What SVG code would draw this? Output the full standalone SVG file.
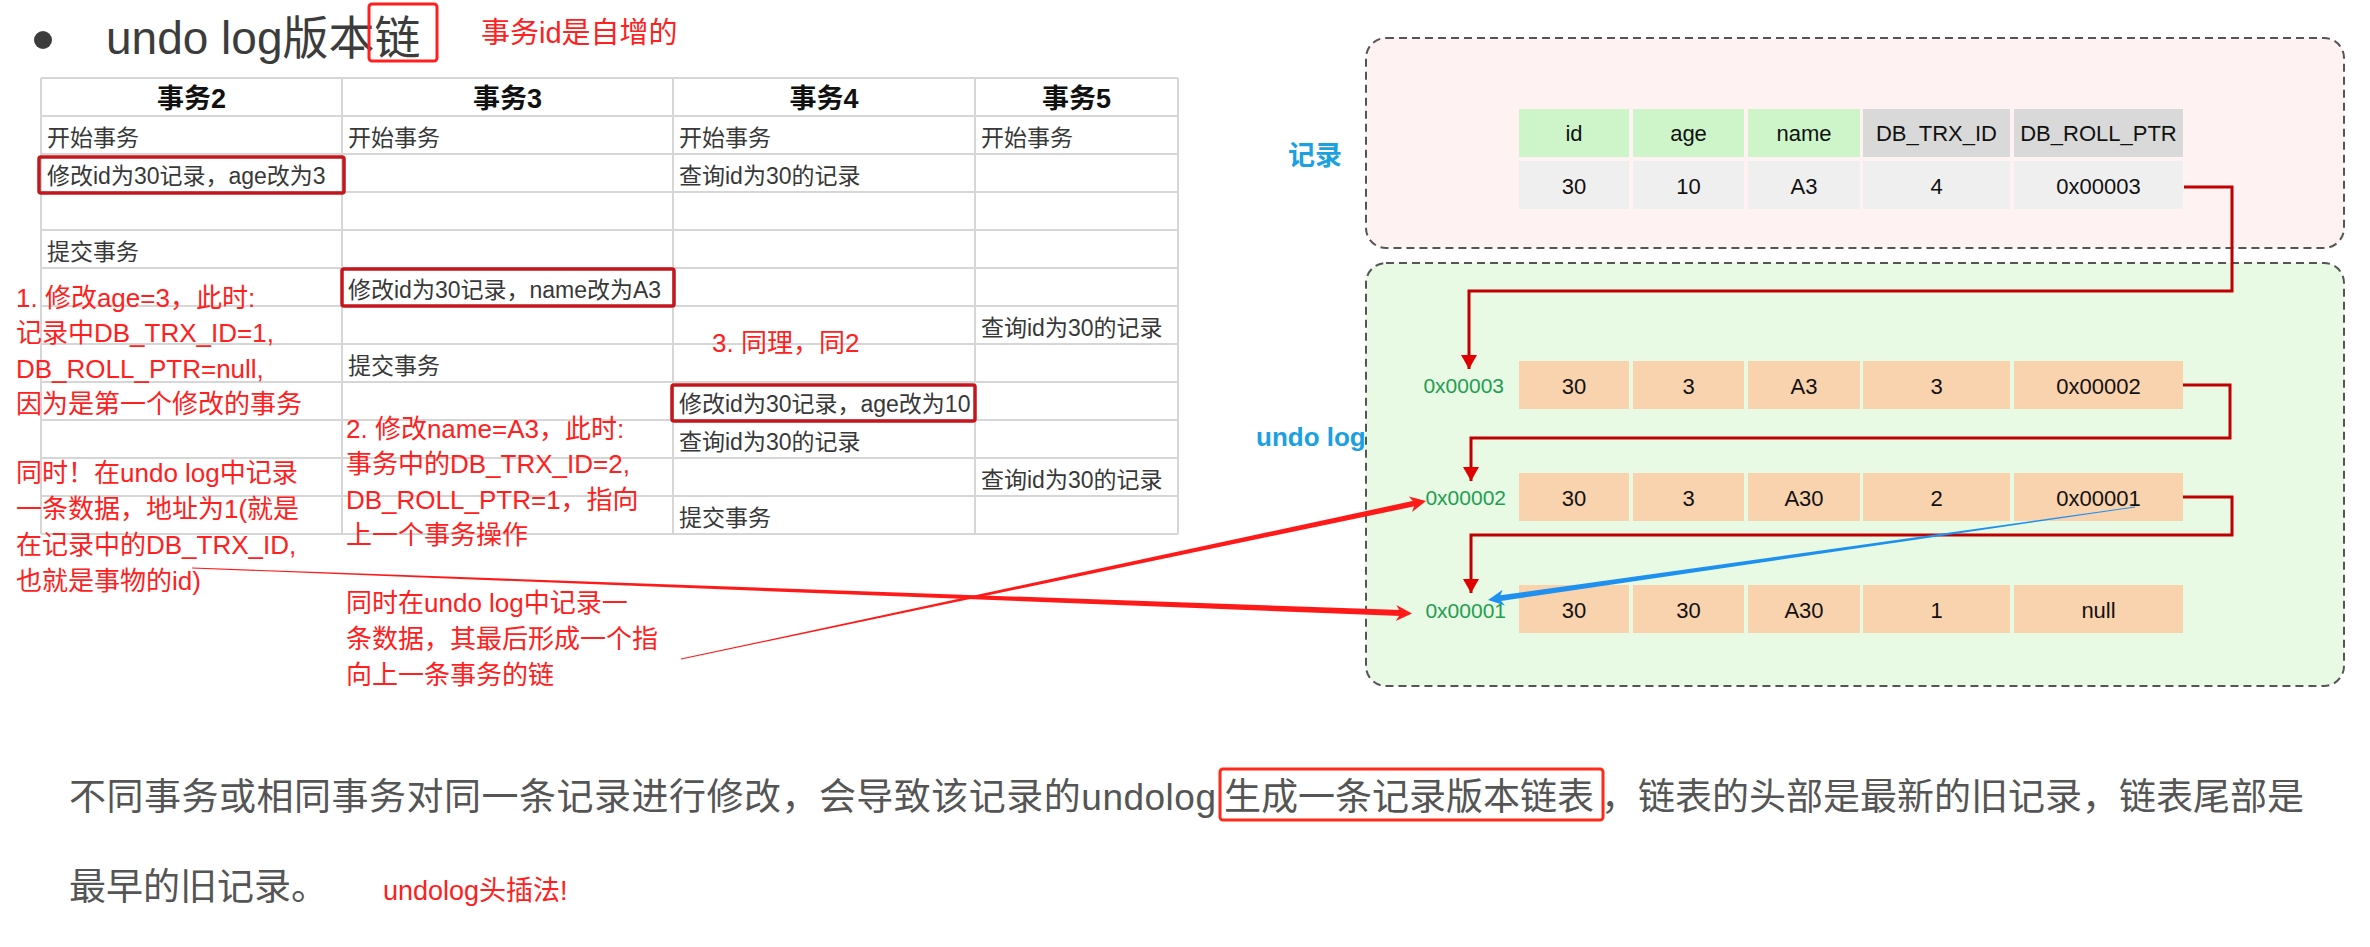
<svg xmlns="http://www.w3.org/2000/svg" width="2370" height="947" viewBox="0 0 2370 947">
<defs>
<style>
.ttl{font-family:"Liberation Sans","Noto Sans CJK SC",sans-serif;font-size:46px;fill:#3c3c3c}
.hd{font-family:"Liberation Sans","Noto Sans CJK SC",sans-serif;font-size:27px;font-weight:bold;fill:#111;text-anchor:middle}
.cell{font-family:"Liberation Sans","Noto Sans CJK SC",sans-serif;font-size:23px;fill:#383838}
.grid{stroke:#d6d6d6;stroke-width:2;fill:none}
.dbox{fill:none;stroke:#c4161c;stroke-width:3.5}
.note{font-family:"Liberation Sans","Noto Sans CJK SC",sans-serif;font-size:26px;fill:#ff2020}
.rbox{fill:none;stroke:#ff1f1f;stroke-width:3}
.blue{font-family:"Liberation Sans","Noto Sans CJK SC",sans-serif;font-size:26px;font-weight:bold;fill:#1ba0e2}
.ct{font-family:"Liberation Sans",sans-serif;font-size:22px;fill:#111;text-anchor:middle}
.addr{font-family:"Liberation Sans",sans-serif;font-size:21px;fill:#1f9e52;text-anchor:end}
.gh{fill:#cdf5c9}.gg{fill:#d9d9d9}.gd{fill:#efefef}.pc{fill:#f9d2ae}
.body{font-family:"Liberation Sans","Noto Sans CJK SC",sans-serif;font-size:37px;fill:#555}
.elbow{fill:none;stroke:#c00000;stroke-width:3;marker-end:url(#ah)}
</style>
<marker id="ah" markerUnits="userSpaceOnUse" markerWidth="14" markerHeight="16" viewBox="0 0 14 16" refX="14" refY="8" orient="auto">
<path d="M0,0 L14,8 L0,16 Z" fill="#e00000"/>
</marker>
</defs>
<rect width="2370" height="947" fill="#ffffff"/>

<g id="title">
<circle cx="43" cy="40" r="9" fill="#3c3c3c"/>
<text class="ttl" x="106" y="54">undo log版本链</text>
<rect class="rbox" x="369" y="4" width="68" height="57" rx="3"/>
<text class="note" x="481" y="43" style="font-size:29px">事务id是自增的</text>
</g>

<g id="txn-table">
<g class="grid">
<path d="M41,78 H1178 M41,116 H1178 M41,154 H1178 M41,192 H1178 M41,230 H1178 M41,268 H1178 M41,306 H1178 M41,344 H1178 M41,382 H1178 M41,420 H1178 M41,458 H1178 M41,496 H1178 M41,534 H1178"/>
<path d="M41,78 V534 M342,78 V534 M673,78 V534 M975,78 V534 M1178,78 V534"/>
</g>
<text class="hd" x="191.5" y="108">事务2</text>
<text class="hd" x="507.5" y="108">事务3</text>
<text class="hd" x="824" y="108">事务4</text>
<text class="hd" x="1076.5" y="108">事务5</text>
<text class="cell" x="47" y="146">开始事务</text>
<text class="cell" x="348" y="146">开始事务</text>
<text class="cell" x="679" y="146">开始事务</text>
<text class="cell" x="981" y="146">开始事务</text>
<text class="cell" x="47" y="184">修改id为30记录，age改为3</text>
<text class="cell" x="679" y="184">查询id为30的记录</text>
<text class="cell" x="47" y="260">提交事务</text>
<text class="cell" x="348" y="298">修改id为30记录，name改为A3</text>
<text class="cell" x="981" y="336">查询id为30的记录</text>
<text class="cell" x="348" y="374">提交事务</text>
<text class="cell" x="679" y="412">修改id为30记录，age改为10</text>
<text class="cell" x="679" y="450">查询id为30的记录</text>
<text class="cell" x="981" y="488">查询id为30的记录</text>
<text class="cell" x="679" y="526">提交事务</text>
<rect class="dbox" x="39" y="157" width="305" height="36" rx="2"/>
<rect class="dbox" x="342" y="269" width="332" height="37" rx="2"/>
<rect class="dbox" x="672" y="385" width="303" height="36" rx="2"/>
</g>

<g id="note1">
<text class="note" x="16" y="307">1. 修改age=3，此时:</text>
<text class="note" x="16" y="342">记录中DB_TRX_ID=1,</text>
<text class="note" x="16" y="378">DB_ROLL_PTR=null,</text>
<text class="note" x="16" y="413">因为是第一个修改的事务</text>
<text class="note" x="16" y="482">同时！在undo log中记录</text>
<text class="note" x="16" y="518">一条数据，地址为1(就是</text>
<text class="note" x="16" y="554">在记录中的DB_TRX_ID,</text>
<text class="note" x="16" y="590">也就是事物的id)</text>
</g>
<g id="note2">
<text class="note" x="346" y="438">2. 修改name=A3，此时:</text>
<text class="note" x="346" y="473">事务中的DB_TRX_ID=2,</text>
<text class="note" x="346" y="509">DB_ROLL_PTR=1，指向</text>
<text class="note" x="346" y="544">上一个事务操作</text>
</g>
<g id="note3">
<text class="note" x="712" y="352">3. 同理，同2</text>
</g>
<g id="note4">
<text class="note" x="346" y="612">同时在undo log中记录一</text>
<text class="note" x="346" y="648">条数据，其最后形成一个指</text>
<text class="note" x="346" y="684">向上一条事务的链</text>
</g>

<g id="record-box">
<rect x="1366" y="38" width="978" height="210" rx="20" fill="#fef3f2" stroke="#555" stroke-width="2" stroke-dasharray="8,5"/>
<text class="blue" x="1288" y="165" style="font-size:27px">记录</text>
<rect class="gh" x="1519" y="109" width="110" height="48"/>
<rect class="gh" x="1633" y="109" width="111" height="48"/>
<rect class="gh" x="1748" y="109" width="112" height="48"/>
<rect class="gg" x="1863" y="109" width="147" height="48"/>
<rect class="gg" x="2014" y="109" width="169" height="48"/>
<rect class="gd" x="1519" y="161" width="110" height="48"/>
<rect class="gd" x="1633" y="161" width="111" height="48"/>
<rect class="gd" x="1748" y="161" width="112" height="48"/>
<rect class="gd" x="1863" y="161" width="147" height="48"/>
<rect class="gd" x="2014" y="161" width="169" height="48"/>
<text class="ct" x="1574" y="141">id</text>
<text class="ct" x="1688.5" y="141">age</text>
<text class="ct" x="1804" y="141">name</text>
<text class="ct" x="1936.5" y="141">DB_TRX_ID</text>
<text class="ct" x="2098.5" y="141">DB_ROLL_PTR</text>
<text class="ct" x="1574" y="194">30</text>
<text class="ct" x="1688.5" y="194">10</text>
<text class="ct" x="1804" y="194">A3</text>
<text class="ct" x="1936.5" y="194">4</text>
<text class="ct" x="2098.5" y="194">0x00003</text>
</g>

<g id="undo-box">
<rect x="1366" y="263" width="978" height="423" rx="20" fill="#e8f9e4" stroke="#555" stroke-width="2" stroke-dasharray="8,5"/>
<text class="blue" x="1256" y="446">undo log</text>
</g>

<g id="undo-row-3">
<text class="addr" x="1504" y="393">0x00003</text>
<rect class="pc" x="1519" y="361" width="110" height="48"/>
<rect class="pc" x="1633" y="361" width="111" height="48"/>
<rect class="pc" x="1748" y="361" width="112" height="48"/>
<rect class="pc" x="1863" y="361" width="147" height="48"/>
<rect class="pc" x="2014" y="361" width="169" height="48"/>
<text class="ct" x="1574" y="394">30</text>
<text class="ct" x="1688.5" y="394">3</text>
<text class="ct" x="1804" y="394">A3</text>
<text class="ct" x="1936.5" y="394">3</text>
<text class="ct" x="2098.5" y="394">0x00002</text>
</g>
<g id="undo-row-2">
<text class="addr" x="1506" y="505">0x00002</text>
<rect class="pc" x="1519" y="473" width="110" height="48"/>
<rect class="pc" x="1633" y="473" width="111" height="48"/>
<rect class="pc" x="1748" y="473" width="112" height="48"/>
<rect class="pc" x="1863" y="473" width="147" height="48"/>
<rect class="pc" x="2014" y="473" width="169" height="48"/>
<text class="ct" x="1574" y="506">30</text>
<text class="ct" x="1688.5" y="506">3</text>
<text class="ct" x="1804" y="506">A30</text>
<text class="ct" x="1936.5" y="506">2</text>
<text class="ct" x="2098.5" y="506">0x00001</text>
</g>
<g id="undo-row-1">
<text class="addr" x="1506" y="618">0x00001</text>
<rect class="pc" x="1519" y="585" width="110" height="48"/>
<rect class="pc" x="1633" y="585" width="111" height="48"/>
<rect class="pc" x="1748" y="585" width="112" height="48"/>
<rect class="pc" x="1863" y="585" width="147" height="48"/>
<rect class="pc" x="2014" y="585" width="169" height="48"/>
<text class="ct" x="1574" y="618">30</text>
<text class="ct" x="1688.5" y="618">30</text>
<text class="ct" x="1804" y="618">A30</text>
<text class="ct" x="1936.5" y="618">1</text>
<text class="ct" x="2098.5" y="618">null</text>
</g>

<g id="connectors">
<path class="elbow" d="M2184,187 H2232 V291 H1469 V369"/>
<path class="elbow" d="M2183,385 H2230 V438 H1471 V481"/>
<path class="elbow" d="M2183,497 H2232 V535 H1471 V593"/>
<polygon fill="#1e90f0" points="2135.06,507.4 1499.3,601.2 1498.5,595.6 2134.94,506.6"/>
<polygon fill="#1e90f0" points="1488,600 1505,605.6 1498.9,598.4 1502.7,589.8"/>
<polygon fill="#ff1a1a" points="191.99,568.4 1400.9,616.1 1401.1,610.1 192.01,567.6"/>
<polygon fill="#ff1a1a" points="1412,613.5 1395.7,620.9 1401,613.1 1396.3,604.9"/>
<polygon fill="#ff1a1a" points="681.08,659.39 1415.8,506.04 1414.6,500.56 680.92,658.61"/>
<polygon fill="#ff1a1a" points="1426,501 1412,512.1 1415.2,503.3 1408.7,496.5"/>
</g>

<g id="summary">
<text class="body" x="69" y="810" textLength="1147" lengthAdjust="spacing">不同事务或相同事务对同一条记录进行修改，会导致该记录的undolog</text>
<text class="body" x="1224" y="810">生成一条记录版本链表</text>
<text class="body" x="1601" y="810">，链表的头部是最新的旧记录，链表尾部是</text>
<rect x="1220" y="769" width="383" height="51" rx="3" fill="none" stroke="#ff2a1a" stroke-width="3"/>
<text class="body" x="69" y="900">最早的旧记录。</text>
<text class="note" x="383" y="900" style="font-size:27px">undolog头插法!</text>
</g>
</svg>
